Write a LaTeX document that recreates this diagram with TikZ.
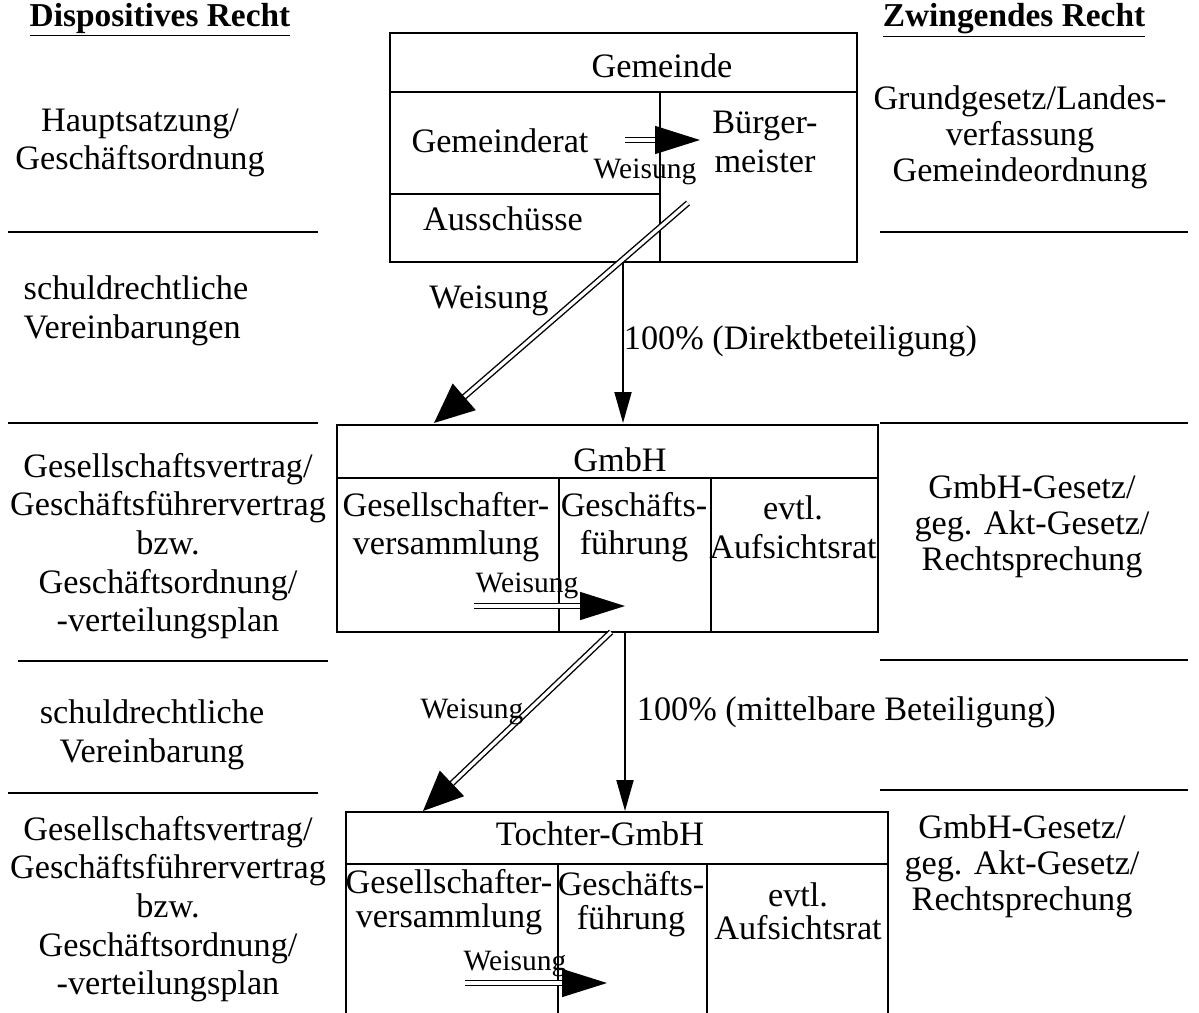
\documentclass[tikz,border=0pt]{standalone}
\usepackage{fontspec}
\setmainfont{Liberation Serif}
\usetikzlibrary{arrows.meta}

\begin{document}
\begin{tikzpicture}[x=0.02cm, y=-0.02cm, line width=1.1pt,
  txt/.style={align=center, inner sep=0pt, font=\fontsize{19.5}{22}\selectfont},
  kopf/.style={inner sep=0pt, font=\fontsize{19}{22}\selectfont\bfseries},
  txtr/.style={align=center, inner sep=0pt, font=\fontsize{19.5}{20.5}\selectfont},
  txtt/.style={align=center, inner sep=0pt, font=\fontsize{19.5}{19}\selectfont},
  klein/.style={inner sep=0pt, font=\fontsize{16.8}{18}\selectfont},
  weisung/.style={double, line width=0.8pt, double distance=1.9pt,
    -{Triangle[length=0.9cm, width=0.56cm]}},
  schraeg/.style={double, line width=0.8pt, double distance=1.9pt,
    -{Triangle[length=0.8cm, width=0.7cm]}},
  anteil/.style={-{Triangle[length=0.62cm, width=0.34cm]}}]
  \useasboundingbox (0,0) rectangle (1199,1013);
  % Kopfzeilen
  \node[kopf] (disp) at (160,20) {\underline{Dispositives Recht}};
  \node[kopf] (zwing) at (1014,20) {\underline{Zwingendes Recht}};
  % Trennlinien links und rechts
  \draw (8,232)--(318,232) (8,423)--(318,423) (18,661)--(328,661) (8,793)--(318,793);
  \draw (880,232)--(1188,232) (880,423)--(1188,423) (880,660)--(1188,660) (880,790)--(1188,790);
  % linke Spalte
  \node[txt] (hs) at (140,143) {Hauptsatzung/\\Geschäftsordnung};
  \node[txt, align=left] (sv1) at (136,311) {schuldrechtliche\\Vereinbarungen};
  \node[txt] (gv1) at (168,546) {Gesellschaftsvertrag/\\Geschäftsführervertrag\\bzw.\\Geschäftsordnung/\\-verteilungsplan};
  \node[txt] (sv2) at (152,735) {schuldrechtliche\\Vereinbarung};
  \node[txt] (gv2) at (168,909) {Gesellschaftsvertrag/\\Geschäftsführervertrag\\bzw.\\Geschäftsordnung/\\-verteilungsplan};
  % rechte Spalte
  \node[txtr] (gg) at (1020,137) {Grundgesetz/Landes-\\verfassung\\Gemeindeordnung};
  \node[txtr] (gmbhg1) at (1032,526) {GmbH-Gesetz/\\geg. Akt-Gesetz/\\Rechtsprechung};
  \node[txtr] (gmbhg2) at (1022,866) {GmbH-Gesetz/\\geg. Akt-Gesetz/\\Rechtsprechung};
  % Gemeinde
  \draw (390,33) rectangle (857,262);
  \draw (390,92)--(857,92) (660,92)--(660,262) (390,194)--(660,194);
  \node[txt] (gem) at (662,66) {Gemeinde};
  \node[txt] (rat) at (500,141) {Gemeinderat};
  \node[txt] (bm) at (765,142) {Bürger-\\meister};
  \node[txt] (aus) at (503,219) {Ausschüsse};
  \node[klein] (w0) at (645,172) {Weisung};
  \coordinate (ra) at (625,140);
  \coordinate (rb) at (700,140);
  \draw[weisung] (ra)--(rb);
  % Weisung und Beteiligung zur GmbH
  \coordinate (w1a) at (688,203);
  \coordinate (w1b) at (434,423);
  \coordinate (b1a) at (623,262);
  \coordinate (b1b) at (623,423);
  \draw[schraeg] (w1a)--(w1b);
  \draw[anteil] (b1a)--(b1b);
  \node[txt] (w1) at (489,301) {Weisung};
  \node[txt, anchor=west] (p1) at (623,341) {100\% (Direktbeteiligung)};
  % GmbH
  \draw (337,425) rectangle (878,632);
  \draw (337,478)--(878,478) (559,478)--(559,632) (711,478)--(711,632);
  \node[txt] (gmbh) at (620,460) {GmbH};
  \node[txt] (gsv1) at (446,527) {Gesellschafter-\\versammlung};
  \node[txt] (gf1) at (634,527) {Geschäfts-\\führung};
  \node[txt] (ar1) at (793,527) {evtl.\\Aufsichtsrat};
  \node[klein] (w2) at (527,586) {Weisung};
  \coordinate (ga) at (474,606);
  \coordinate (gb) at (625,606);
  \draw[weisung] (ga)--(gb);
  % Weisung und Beteiligung zur Tochter
  \coordinate (w3a) at (611,632);
  \coordinate (w3b) at (423,811);
  \coordinate (b2a) at (625,632);
  \coordinate (b2b) at (625,811);
  \draw[schraeg] (w3a)--(w3b);
  \draw[anteil] (b2a)--(b2b);
  \node[klein] (w3) at (472,712) {Weisung};
  \node[txt, anchor=west] (p2) at (636,712) {100\% (mittelbare Beteiligung)};
  % Tochter-GmbH
  \draw (346,1013)--(346,812)--(888,812)--(888,1013);
  \draw (346,864)--(888,864) (558,864)--(558,1013) (707,864)--(707,1013);
  \node[txt] (toch) at (600,834) {Tochter-GmbH};
  \node[txtt] (gsv2) at (449,902) {Gesellschafter-\\versammlung};
  \node[txtt] (gf2) at (631,904) {Geschäfts-\\führung};
  \node[txtt] (ar2) at (798,911) {evtl.\\Aufsichtsrat};
  \node[klein] (w4) at (515,964) {Weisung};
  \coordinate (ta) at (465,983);
  \coordinate (tb) at (607,983);
  \draw[weisung] (ta)--(tb);
\end{tikzpicture}
\end{document}
